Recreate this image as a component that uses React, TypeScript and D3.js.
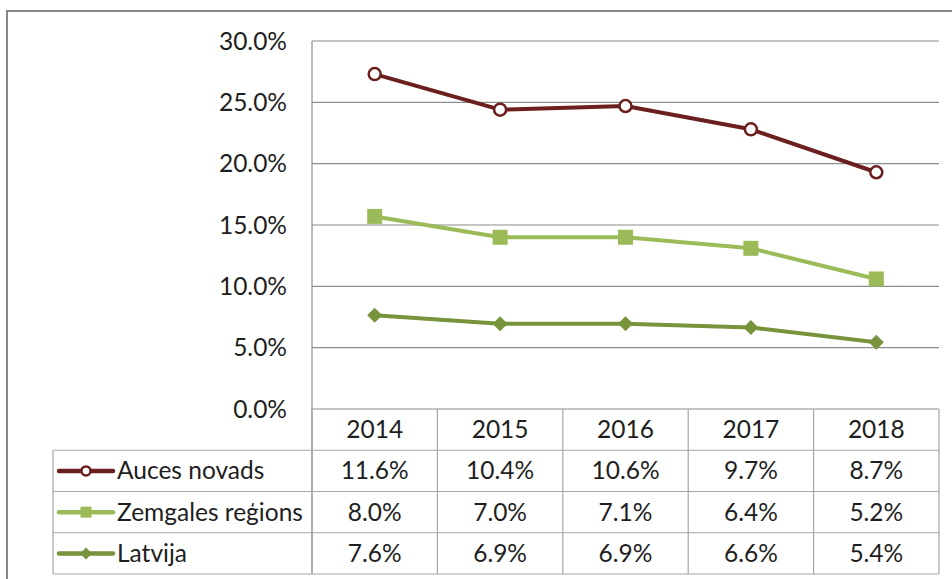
import * as d3 from "d3";

const years = ["2014", "2015", "2016", "2017", "2018"];
const seriesNames = ["Auces novads", "Zemgales reģions", "Latvija"];

// values as plotted on the chart (percent)
const aucesPlot = [27.3, 24.4, 24.7, 22.8, 19.3];
const zemgalesPlot = [15.7, 14.0, 14.0, 13.1, 10.6];
const latvijaPlot = [7.65, 6.95, 6.95, 6.65, 5.45];

// values as printed in the data table
const aucesTable = ["11.6%", "10.4%", "10.6%", "9.7%", "8.7%"];
const zemgalesTable = ["8.0%", "7.0%", "7.1%", "6.4%", "5.2%"];
const latvijaTable = ["7.6%", "6.9%", "6.9%", "6.6%", "5.4%"];

const yTicks = [0, 5, 10, 15, 20, 25, 30];

const colors = ["#6b1f1f", "#9bbb59", "#77933c"];
const markers = ["circle", "square", "diamond"];

const W = 952;
const H = 579;
const plotLeft = 312;
const plotRight = 939;
const plotTop = 41;
const plotBottom = 409;
const tableLeft = 53;
const tableBottom = 574;
const font = "Lato, 'Open Sans', sans-serif";
const fontSize = 24.5;
const textColor = "#1e1e1e";
const gridColor = "#8c8c8c";
const tableColor = "#a6a6a6";

const Marker = ({ kind, cx, cy, color, size }: { kind: string; cx: number; cy: number; color: string; size: number }) => {
  if (kind === "circle")
    return <circle cx={cx} cy={cy} r={size / 2 - 1} fill="#fff" stroke={color} strokeWidth={2.5} />;
  if (kind === "square")
    return <rect x={cx - size / 2} y={cy - size / 2} width={size} height={size} fill={color} />;
  const s = size / 2;
  return <path d={`M${cx},${cy - s}L${cx + s},${cy}L${cx},${cy + s}L${cx - s},${cy}Z`} fill={color} />;
};

export default function App() {
  const x = d3.scaleBand().domain(years).range([plotLeft, plotRight]);
  const y = d3.scaleLinear().domain([0, 30]).range([plotBottom, plotTop]);
  const rows = d3.scaleBand().domain(["header", ...seriesNames]).range([plotBottom, tableBottom]);

  const plotData = [aucesPlot, zemgalesPlot, latvijaPlot];
  const tableData = [aucesTable, zemgalesTable, latvijaTable];

  const line = d3
    .line<number>()
    .x((_, i) => (x(years[i]) ?? 0) + x.bandwidth() / 2)
    .y((d) => y(d));

  const colEdges = years.map((yr) => x(yr) ?? 0).concat([plotRight]);

  return (
    <svg width={W} height={H} style={{ position: "absolute", left: 0, top: 0, background: "#fff" }} fontFamily={font}>
      <rect x={7} y={11} width={W + 20} height={H + 20} fill="#fff" stroke="#878787" strokeWidth={2} />

      {/* gridlines */}
      {yTicks.map((t) => (
        <line key={t} x1={plotLeft} x2={plotRight} y1={y(t)} y2={y(t)} stroke={gridColor} strokeWidth={1.2} />
      ))}
      <line x1={plotLeft} x2={plotLeft} y1={plotTop} y2={tableBottom} stroke={gridColor} strokeWidth={1.2} />

      {/* y tick labels */}
      {yTicks.map((t) => (
        <text key={t} x={287} y={y(t)} dy="0.35em" textAnchor="end" fontSize={fontSize} fill={textColor}>
          {t.toFixed(1)}%
        </text>
      ))}

      {/* data table grid */}
      {seriesNames.map((n) => (
        <line key={n} x1={tableLeft} x2={plotRight} y1={rows(n) ?? 0} y2={rows(n) ?? 0} stroke={tableColor} strokeWidth={1.2} />
      ))}
      <line x1={tableLeft} x2={plotRight} y1={tableBottom} y2={tableBottom} stroke={tableColor} strokeWidth={1.2} />
      <line x1={tableLeft} x2={tableLeft} y1={rows(seriesNames[0]) ?? 0} y2={tableBottom} stroke={tableColor} strokeWidth={1.2} />
      {colEdges.map((cx, i) => (
        <line key={i} x1={cx} x2={cx} y1={plotBottom} y2={tableBottom} stroke={tableColor} strokeWidth={1.2} />
      ))}

      {/* year headers */}
      {years.map((yr) => (
        <text
          key={yr}
          x={(x(yr) ?? 0) + x.bandwidth() / 2}
          y={(rows("header") ?? 0) + rows.bandwidth() / 2}
          dy="0.35em"
          textAnchor="middle"
          fontSize={fontSize}
          fill={textColor}
        >
          {yr}
        </text>
      ))}

      {/* table rows with legend keys */}
      {seriesNames.map((name, si) => {
        const cy = (rows(name) ?? 0) + rows.bandwidth() / 2;
        return (
          <g key={name}>
            <line x1={59} x2={113} y1={cy} y2={cy} stroke={colors[si]} strokeWidth={4.5} strokeLinecap="round" />
            <Marker kind={markers[si]} cx={86} cy={cy} color={colors[si]} size={si === 2 ? 12 : 11} />
            <text x={117} y={cy} dy="0.35em" fontSize={fontSize} fill={textColor}>
              {name}
            </text>
            {tableData[si].map((v, i) => (
              <text
                key={i}
                x={(x(years[i]) ?? 0) + x.bandwidth() / 2}
                y={cy}
                dy="0.35em"
                textAnchor="middle"
                fontSize={fontSize}
                fill={textColor}
              >
                {v}
              </text>
            ))}
          </g>
        );
      })}

      {/* series lines */}
      {plotData.map((vals, si) => (
        <g key={si}>
          <path d={line(vals) ?? ""} fill="none" stroke={colors[si]} strokeWidth={4} strokeLinejoin="round" />
          {vals.map((v, i) => (
            <Marker
              key={i}
              kind={markers[si]}
              cx={(x(years[i]) ?? 0) + x.bandwidth() / 2}
              cy={y(v)}
              color={colors[si]}
              size={si === 0 ? 14 : si === 1 ? 15 : 15}
            />
          ))}
        </g>
      ))}
    </svg>
  );
}
